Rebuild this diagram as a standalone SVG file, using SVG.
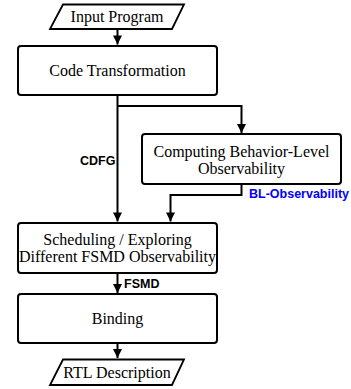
<svg xmlns="http://www.w3.org/2000/svg" width="351" height="389" viewBox="0 0 351 389">
  <style>
    .box { fill: #fff; stroke: #000; stroke-width: 2; }
    .io { fill: #fff; stroke: #000; stroke-width: 1.8; }
    .t { font-family: "Liberation Serif", "Times New Roman", serif; font-size: 16px; fill: #000; text-anchor: middle; }
    .lbl { font-family: "Liberation Sans", Arial, sans-serif; font-size: 12.5px; font-weight: bold; fill: #000; }
    .blue { fill: #0000ff; }
    .edge { fill: none; stroke: #000; stroke-width: 2; }
  </style>
  <defs>
    <marker id="arrow" viewBox="0 0 10 10" refX="10" refY="5" markerWidth="10" markerHeight="9" markerUnits="userSpaceOnUse" orient="auto">
      <path d="M0,0 L10,5 L0,10 Z" fill="#000"/>
    </marker>
  </defs>

  <g id="connectors">
    <path class="edge" d="M117.5,29 V44.5" marker-end="url(#arrow)"/>
    <path class="edge" d="M117.5,95 V221.5" marker-end="url(#arrow)"/>
    <path class="edge" d="M117.5,106 H241.5 V133" marker-end="url(#arrow)"/>
    <path class="edge" d="M241.5,184 V195 H170.5 V221.5" marker-end="url(#arrow)"/>
    <path class="edge" d="M117.5,273 V293" marker-end="url(#arrow)"/>
    <path class="edge" d="M117.5,343 V358" marker-end="url(#arrow)"/>
    <text class="lbl" x="80" y="164.5">CDFG</text>
    <text class="lbl blue" x="249" y="197.5">BL-Observability</text>
    <text class="lbl" x="124" y="287.5">FSMD</text>
  </g>

  <g id="input-program">
    <polygon class="io" points="63,4.5 184,4.5 172,29 50,29"/>
    <text class="t" x="117" y="22">Input Program</text>
  </g>

  <g id="code-transformation">
    <rect class="box" x="18" y="46" width="199" height="49" rx="3"/>
    <text class="t" x="117.5" y="76">Code Transformation</text>
  </g>

  <g id="computing-observability">
    <rect class="box" x="142" y="134" width="199" height="50" rx="3"/>
    <text class="t" x="241.5" y="157">Computing Behavior-Level</text>
    <text class="t" x="241.5" y="174">Observability</text>
  </g>

  <g id="scheduling">
    <rect class="box" x="18" y="223" width="199" height="50" rx="3"/>
    <text class="t" x="117.5" y="245">Scheduling / Exploring</text>
    <text class="t" x="117.5" y="262">Different FSMD Observability</text>
  </g>

  <g id="binding">
    <rect class="box" x="18" y="294" width="199" height="49" rx="3"/>
    <text class="t" x="117.5" y="324">Binding</text>
  </g>

  <g id="rtl-description">
    <polygon class="io" points="63,359.5 184,359.5 172,385 50,385"/>
    <text class="t" x="117" y="378">RTL Description</text>
  </g>
</svg>
